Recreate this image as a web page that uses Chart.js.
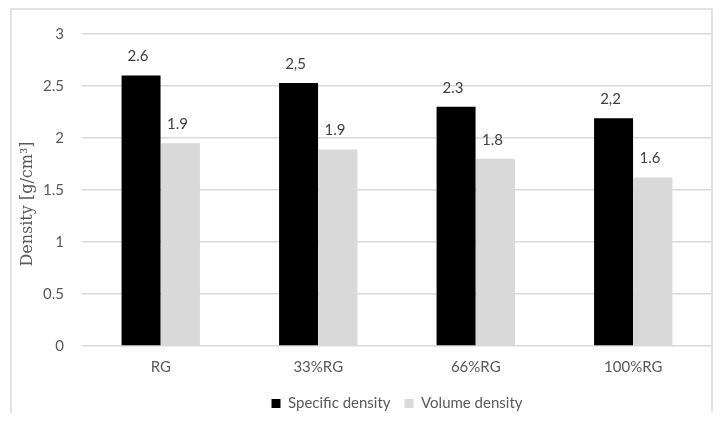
<!DOCTYPE html>
<html lang="en">
<head>
    <meta charset="UTF-8">
    <title>Density</title>
    <script src="https://cdn.jsdelivr.net/npm/chart.js"></script>
    <style>
        body { margin: 0; background: #fff; }
        .chart-box { width: 723px; height: 422px; position: relative; }
    </style>
</head>
<body>
    <div class="chart-box">
        <canvas id="densityChart"></canvas>
    </div>
    <script>
        // data
        var categories = ["RG", "33%RG", "66%RG", "100%RG"];
        var specificDensity = [2.60, 2.53, 2.30, 2.19];
        var volumeDensity = [1.95, 1.89, 1.80, 1.62];
        // the printed labels (as written on the original, commas included)
        var specificLabels = ["2.6", "2,5", "2.3", "2,2"];
        var volumeLabels = ["1.9", "1.9", "1.8", "1.6"];
        var yTicks = [0, 0.5, 1, 1.5, 2, 2.5, 3];

        var textColor = "#595959";
        var gridColor = "#d9d9d9";

        Chart.defaults.font.family = "Lato, 'Open Sans', sans-serif";
        Chart.defaults.font.size = 15;
        Chart.defaults.color = textColor;

        // outer frame + rotated axis title
        var framePlugin = {
            id: "frame",
            beforeDraw: function (chart) {
                var c = chart.ctx;
                c.save();
                c.strokeStyle = gridColor;
                c.lineWidth = 1.5;
                c.beginPath();
                c.moveTo(11, 413);
                c.lineTo(11, 9);
                c.lineTo(712, 9);
                c.lineTo(712, 412);
                c.stroke();

                var title = "Density [g/cm\u00b3]";
                c.font = "16px 'DejaVu Serif', serif";
                var w = c.measureText(title).width;
                var cx = 28, cy = 204;
                c.fillStyle = "#fff";
                c.fillRect(cx - 12, cy - w / 2 - 10, 24, w + 20);
                c.translate(cx, cy);
                c.rotate(-Math.PI / 2);
                c.fillStyle = textColor;
                c.textAlign = "center";
                c.textBaseline = "middle";
                c.fillText(title, 0, 0);
                c.restore();
            }
        };

        // value labels above bars
        var valuePlugin = {
            id: "values",
            afterDatasetsDraw: function (chart) {
                var c = chart.ctx;
                var sets = [specificLabels, volumeLabels];
                c.save();
                c.font = "15px Lato";
                c.fillStyle = "#404040";
                c.textAlign = "center";
                c.textBaseline = "middle";
                sets.forEach(function (labels, di) {
                    chart.getDatasetMeta(di).data.forEach(function (bar, i) {
                        c.fillText(labels[i], bar.x - 3, bar.y - 19);
                    });
                });
                c.restore();
            }
        };

        var ctx = document.getElementById("densityChart").getContext("2d");
        var densityChart = new Chart(ctx, {
            type: "bar",
            data: {
                labels: categories,
                datasets: [{
                    label: "Specific density",
                    data: specificDensity,
                    backgroundColor: "#000000"
                }, {
                    label: "Volume density",
                    data: volumeDensity,
                    backgroundColor: "#d9d9d9"
                }]
            },
            options: {
                responsive: true,
                maintainAspectRatio: false,
                animation: false,
                layout: { padding: { left: 0, top: 34, right: 11, bottom: 1 } },
                datasets: {
                    bar: { categoryPercentage: 0.5, barPercentage: 0.99 }
                },
                scales: {
                    x: {
                        afterFit: function (s) { s.height = 36; },
                        grid: { display: false },
                        border: { display: false },
                        ticks: { padding: 4, color: textColor }
                    },
                    y: {
                        min: 0,
                        max: 3,
                        afterFit: function (s) { s.width = 82; },
                        afterBuildTicks: function (s) {
                            s.ticks = yTicks.map(function (v) { return { value: v }; });
                        },
                        grid: { color: gridColor, lineWidth: 1.5, drawTicks: false },
                        border: { display: false },
                        ticks: {
                            padding: 18,
                            color: textColor,
                            callback: function (v) { return String(v); }
                        }
                    }
                },
                plugins: {
                    legend: {
                        position: "bottom",
                        fullSize: false,
                        labels: { boxWidth: 9, boxHeight: 9, padding: 14, color: textColor }
                    },
                    tooltip: { enabled: false }
                }
            },
            plugins: [framePlugin, valuePlugin]
        });
    </script>
</body>
</html>
